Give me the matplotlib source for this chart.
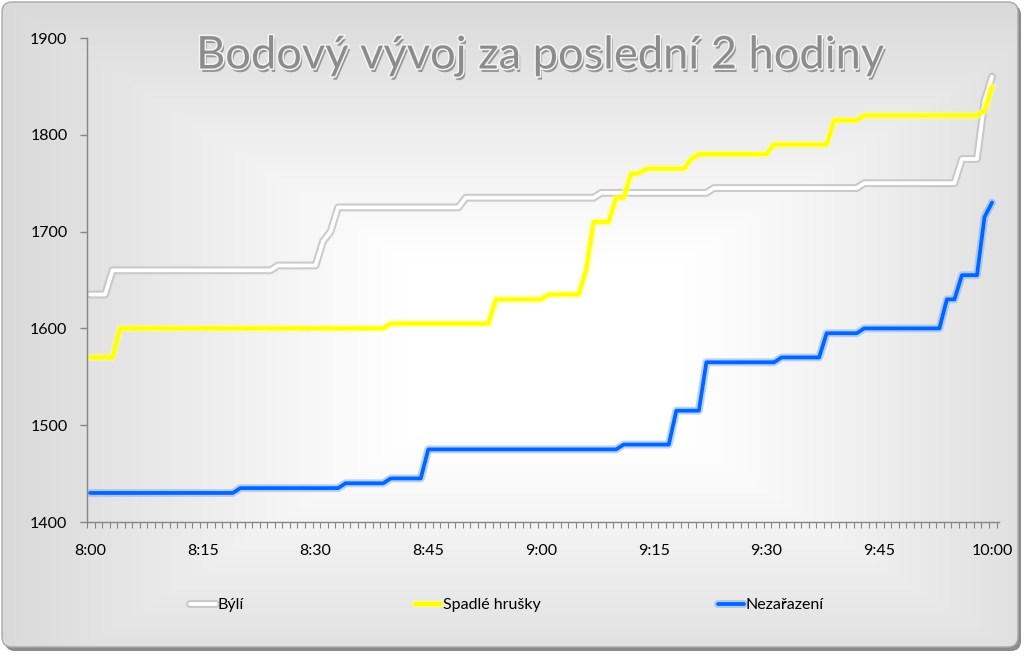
import numpy as np
import matplotlib
matplotlib.use("Agg")
import matplotlib.pyplot as plt
import matplotlib.patheffects as pe
from matplotlib.patches import FancyBboxPatch
from matplotlib.lines import Line2D

plt.rcParams['font.family'] = ['Lato', 'DejaVu Sans']

# ── Data: vertices of the step lines (minutes after 8:00, points) ──
byli_min = [0, 2, 3, 24, 25, 30, 31, 32, 33, 49, 50, 67, 68, 82, 83,
            102, 103, 115, 116, 118, 119, 120]
byli_pts = [1635, 1635, 1660, 1660, 1665, 1665, 1690, 1700, 1725, 1725,
            1735, 1735, 1740, 1740, 1745, 1745, 1750, 1750, 1775, 1775,
            1835, 1860]

hrusky_min = [0, 3, 4, 39, 40, 53, 54, 60, 61, 65, 66, 67, 69, 70, 71, 72,
              73, 74, 79, 80, 81, 90, 91, 98, 99, 102, 103, 118, 119, 120]
hrusky_pts = [1570, 1570, 1600, 1600, 1605, 1605, 1630, 1630, 1635, 1635,
              1660, 1710, 1710, 1735, 1735, 1760, 1760, 1765, 1765, 1775,
              1780, 1780, 1790, 1790, 1815, 1815, 1820, 1820, 1825, 1850]

nezar_min = [0, 19, 20, 33, 34, 39, 40, 44, 45, 70, 71, 77, 78, 81, 82, 91,
             92, 97, 98, 102, 103, 113, 114, 115, 116, 118, 119, 120]
nezar_pts = [1430, 1430, 1435, 1435, 1440, 1440, 1445, 1445, 1475, 1475,
             1480, 1480, 1515, 1515, 1565, 1565, 1570, 1570, 1595, 1595,
             1600, 1600, 1630, 1630, 1655, 1655, 1715, 1730]

series_names = ["Býlí", "Spadlé hrušky", "Nezařazení"]
tick_minutes = [0, 15, 30, 45, 60, 75, 90, 105, 120]
tick_labels = ["8:00", "8:15", "8:30", "8:45", "9:00", "9:15", "9:30", "9:45", "10:00"]

# ── Style ──
_W, _H = 1025, 656
_AXIS = "#868686"
_STYLES = [
    dict(color="#ffffff", glow="#c4c4c4", glow_alpha=0.85),
    dict(color="#ffff00", glow="#ffff70", glow_alpha=0.55),
    dict(color="#0066ff", glow="#80b0ff", glow_alpha=0.55),
]
_LW = 2.7

fig = plt.figure(figsize=(_W / 100, _H / 100), dpi=100)
fig.patch.set_facecolor("white")

# background: rectangular gradient inside a rounded frame
bg = fig.add_axes([0, 0, 1, 1], zorder=0)
bg.set_xlim(0, _W)
bg.set_ylim(_H, 0)
bg.axis("off")
yy, xx = np.mgrid[0:_H, 0:_W]
t = np.maximum(np.abs(xx - 545) / 545.0, np.abs(yy - 350) / 350.0)
g = 1 - 0.15 * np.clip((t - 0.25) / 0.75, 0, 1) ** 1.1
img = np.dstack([g, g, g])

shadow = FancyBboxPatch((5, 5), 1016, 646, boxstyle="round,pad=0,rounding_size=10",
                        facecolor="#6e6e6e", edgecolor="none", alpha=0.8)
bg.add_patch(shadow)
frame = FancyBboxPatch((2, 2), 1016, 645, boxstyle="round,pad=0,rounding_size=10",
                       facecolor="none", edgecolor="#a8a8a8", linewidth=1.0, zorder=3)
bg.add_patch(frame)
im = bg.imshow(img, extent=(0, _W, _H, 0), aspect="auto", zorder=2)
im.set_clip_path(frame)

# plot area
ax = fig.add_axes([87 / _W, 1 - 522 / _H, (999 - 87) / _W, (522 - 38) / _H], zorder=2)
ax.patch.set_alpha(0)

all_min = [byli_min, hrusky_min, nezar_min]
all_pts = [byli_pts, hrusky_pts, nezar_pts]
handles = []
for name, mins, pts, st in zip(series_names, all_min, all_pts, _STYLES):
    effects = [pe.Stroke(linewidth=_LW + 3.0, foreground=st["glow"], alpha=st["glow_alpha"]),
               pe.Normal()]
    ln, = ax.plot(mins, pts, color=st["color"], linewidth=_LW,
                  solid_joinstyle="round", solid_capstyle="round",
                  path_effects=effects, label=name)
    handles.append(ln)

ax.set_xlim(-0.4, 120.93)
ax.set_ylim(1400, 1900)
ax.set_yticks([1400, 1500, 1600, 1700, 1800, 1900])
ax.set_xticks(tick_minutes)
ax.set_xticklabels(tick_labels)
ax.set_xticks(np.arange(-0.4, 121.0, 1.0), minor=True)

for side in ("top", "right"):
    ax.spines[side].set_visible(False)
for side in ("left", "bottom"):
    ax.spines[side].set_color(_AXIS)
    ax.spines[side].set_linewidth(1.0)

ax.tick_params(axis="y", which="major", length=5, width=1, color=_AXIS,
               labelsize=11.5, labelcolor="black", pad=9)
ax.tick_params(axis="x", which="major", length=0, labelsize=11.5,
               labelcolor="black", pad=16)
ax.tick_params(axis="x", which="minor", length=4, width=0.8, color=_AXIS)

# title with embossed look
title = fig.text(541 / _W, 1 - 56 / _H, "Bodový vývoj za poslední 2 hodiny",
                 ha="center", va="center", fontsize=36, color="#8c8c8c", zorder=5)
title.set_path_effects([
    pe.SimplePatchShadow(offset=(1.5, -2.5), shadow_rgbFace="#3c3c3c", alpha=0.45),
    pe.Stroke(linewidth=2.2, foreground="#f4f4f4"),
    pe.Normal(),
])
fig.canvas.draw()
bb = title.get_window_extent()
title.set_fontsize(36 * 688 / bb.width)

# legend: three entries spread along the bottom
leg_x = [190, 415, 718]
for h, x in zip(handles, leg_x):
    lg = fig.legend(handles=[h], loc="center left",
                    bbox_to_anchor=(x / _W, 1 - 605 / _H),
                    frameon=False, fontsize=11.5, handlelength=1.6,
                    handletextpad=0.15, borderpad=0, borderaxespad=0)
    lg.set_zorder(5)

fig.savefig("out.png", dpi=100, facecolor=fig.get_facecolor())
plt.close(fig)
